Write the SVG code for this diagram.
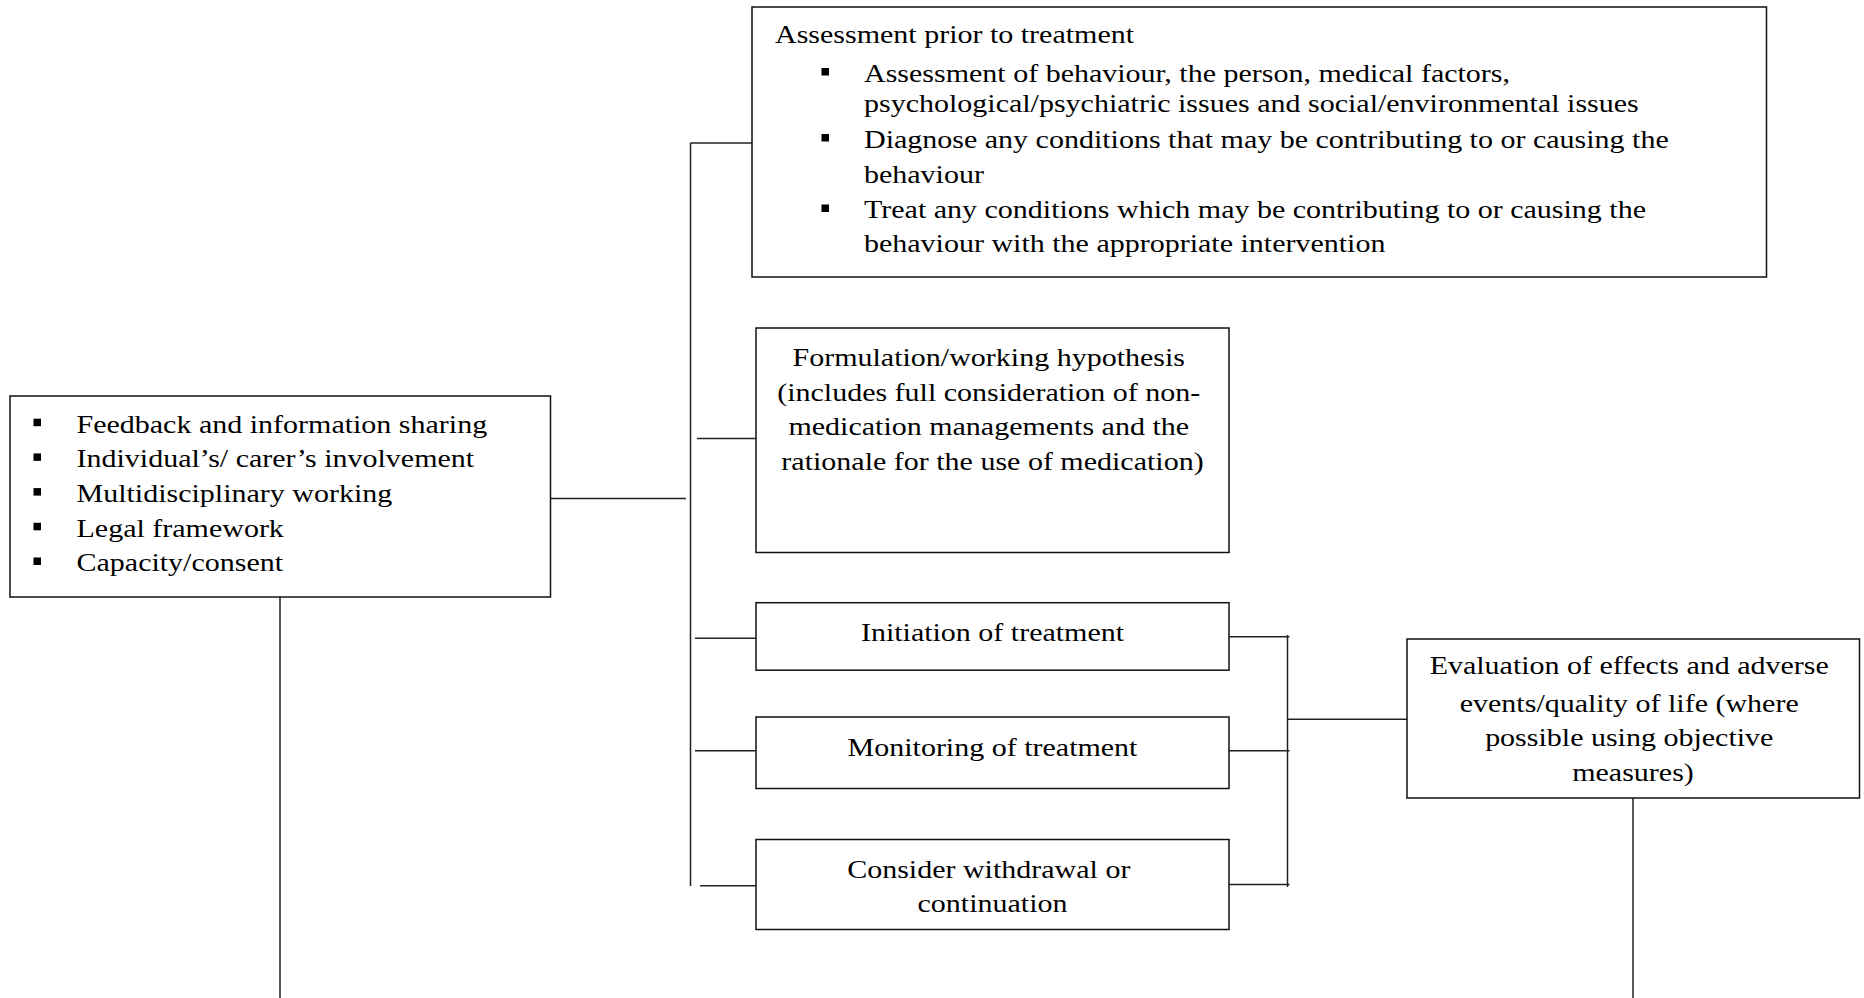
<svg xmlns="http://www.w3.org/2000/svg" xmlns:xlink="http://www.w3.org/1999/xlink" width="1864" height="998" viewBox="0 0 1864 998">
<style>
  .box { fill: #ffffff; stroke: #111111; stroke-width: 1.5; }
  .conn { stroke: #222222; stroke-width: 1.5; fill: none; }
  .t { font-family: "Liberation Serif", "Times New Roman", serif; font-size: 25px; fill: #000000; }
  .c { text-anchor: middle; }
  .bul { fill: #000000; }
</style>
<defs>
  <rect id="bullet" width="7.5" height="7.5" class="bul"/>
</defs>
<rect x="0" y="0" width="1864" height="998" fill="#ffffff"/>

<g id="connectors">
  <line class="conn" x1="550" y1="498.5" x2="686" y2="498.5"/>
  <line class="conn" x1="690.5" y1="143" x2="690.5" y2="886"/>
  <line class="conn" x1="690.5" y1="143" x2="752" y2="143"/>
  <line class="conn" x1="697" y1="438.5" x2="756" y2="438.5"/>
  <line class="conn" x1="695" y1="638.3" x2="756" y2="638.3"/>
  <line class="conn" x1="695" y1="750.7" x2="756" y2="750.7"/>
  <line class="conn" x1="700" y1="885.7" x2="756" y2="885.7"/>
  <line class="conn" x1="1229" y1="636.7" x2="1289.5" y2="636.7"/>
  <line class="conn" x1="1229" y1="750.7" x2="1289.5" y2="750.7"/>
  <line class="conn" x1="1229" y1="884.5" x2="1289.5" y2="884.5"/>
  <line class="conn" x1="1287.5" y1="635" x2="1287.5" y2="887"/>
  <line class="conn" x1="1287.5" y1="719.3" x2="1407" y2="719.3"/>
  <line class="conn" x1="1633" y1="798" x2="1633" y2="998"/>
  <line class="conn" x1="280" y1="594" x2="280" y2="998"/>
</g>

<g id="node-principles">
  <rect class="box" x="10" y="396" width="540.5" height="201"/>
  <use xlink:href="#bullet" x="33.5" y="418.7"/>
  <use xlink:href="#bullet" x="33.5" y="453.4"/>
  <use xlink:href="#bullet" x="33.5" y="488.1"/>
  <use xlink:href="#bullet" x="33.5" y="522.8"/>
  <use xlink:href="#bullet" x="33.5" y="557.5"/>
  <text class="t" transform="translate(76.5,432.7) scale(1.2,1)">
    <tspan x="0" y="0">Feedback and information sharing</tspan>
    <tspan x="0" y="34.7">Individual’s/ carer’s involvement</tspan>
    <tspan x="0" y="69.4">Multidisciplinary working</tspan>
    <tspan x="0" y="104.1">Legal framework</tspan>
    <tspan x="0" y="138.8">Capacity/consent</tspan>
  </text>
</g>

<g id="node-assessment">
  <rect class="box" x="752" y="7" width="1014.5" height="270"/>
  <text class="t" transform="translate(775,42.5) scale(1.2,1)">Assessment prior to treatment</text>
  <use xlink:href="#bullet" x="821.5" y="68"/>
  <use xlink:href="#bullet" x="821.5" y="134"/>
  <use xlink:href="#bullet" x="821.5" y="204.5"/>
  <text class="t" transform="translate(864,82) scale(1.2,1)">
    <tspan x="0" y="0">Assessment of behaviour, the person, medical factors,</tspan>
    <tspan x="0" y="30">psychological/psychiatric issues and social/environmental issues</tspan>
    <tspan x="0" y="66">Diagnose any conditions that may be contributing to or causing the</tspan>
    <tspan x="0" y="101.5">behaviour</tspan>
    <tspan x="0" y="136.5">Treat any conditions which may be contributing to or causing the</tspan>
    <tspan x="0" y="170.5">behaviour with the appropriate intervention</tspan>
  </text>
</g>

<g id="node-formulation">
  <rect class="box" x="756" y="328" width="473" height="224.5"/>
  <text class="t c" transform="translate(992.5,366) scale(1.2,1)">
    <tspan x="0" y="0">Formulation/working hypothesis</tspan>
    <tspan x="0" y="34.7">(includes full consideration of non-</tspan>
    <tspan x="0" y="69.4">medication managements and the</tspan>
    <tspan x="0" y="104.1">rationale for the use of medication)</tspan>
  </text>
</g>

<g id="node-initiation">
  <rect class="box" x="756" y="602.7" width="473" height="67.5"/>
  <text class="t c" transform="translate(992.5,641) scale(1.2,1)">Initiation of treatment</text>
</g>

<g id="node-monitoring">
  <rect class="box" x="756" y="717" width="473" height="71.5"/>
  <text class="t c" transform="translate(992.5,755.5) scale(1.2,1)">Monitoring of treatment</text>
</g>

<g id="node-withdrawal">
  <rect class="box" x="756" y="839.5" width="473" height="90"/>
  <text class="t c" transform="translate(992.5,878) scale(1.2,1)">
    <tspan x="0" y="0">Consider withdrawal or</tspan>
    <tspan x="0" y="34.5">continuation</tspan>
  </text>
</g>

<g id="node-evaluation">
  <rect class="box" x="1407" y="639" width="452.5" height="159"/>
  <text class="t c" transform="translate(1633,674) scale(1.2,1)">
    <tspan x="0" y="0">Evaluation of effects and adverse</tspan>
    <tspan x="0" y="38">events/quality of life (where</tspan>
    <tspan x="0" y="72.5">possible using objective</tspan>
    <tspan x="0" y="107">measures)</tspan>
  </text>
</g>
</svg>
